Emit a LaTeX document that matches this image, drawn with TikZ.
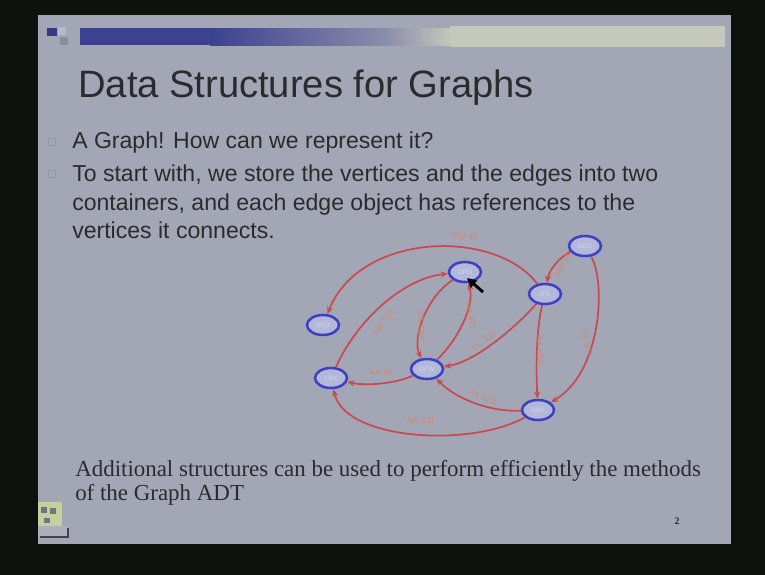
\documentclass[tikz,border=0pt]{standalone}
\usepackage{fontspec}
\setmainfont{Liberation Serif}
\newfontfamily\arialfont{Liberation Sans}
\usetikzlibrary{arrows.meta,shapes.geometric}

\definecolor{frame}{HTML}{0E120E}
\definecolor{slide}{HTML}{A3A7B5}
\definecolor{barblue}{HTML}{3C4190}
\definecolor{barmid}{HTML}{8A8DAA}
\definecolor{barlight}{HTML}{C5C8BC}
\definecolor{ink}{HTML}{2B2B2E}
\definecolor{bulletgray}{HTML}{9296A4}
\definecolor{edgered}{HTML}{C84A50}
\definecolor{lblorange}{HTML}{C98A72}
\definecolor{nodeblue}{HTML}{3C40C4}
\definecolor{nodefill}{HTML}{B3B7DA}
\definecolor{iconbg}{HTML}{C6D09C}

\tikzset{
  vertex/.style={ellipse, draw=nodeblue, line width=1.9pt, fill=nodefill,
    minimum width=24pt, minimum height=15pt, inner sep=0pt,
    font=\arialfont\fontsize{5}{5}\selectfont, text=nodefill!60!white},
  flight/.style={draw=edgered, line width=1.3pt,
    -{Stealth[length=5.5pt,width=4.5pt]}},
  flightlbl/.style={font=\arialfont\fontsize{6.5}{7}\selectfont, text=lblorange, inner sep=0pt},
  bodytext/.style={anchor=base west, inner sep=0pt, text=ink,
    font=\arialfont\fontsize{17.3}{20}\selectfont},
  sertext/.style={anchor=base west, inner sep=0pt, text=ink,
    font=\fontsize{17.2}{20}\selectfont},
  bulletbox/.style={draw=bulletgray, line width=0.5pt}
}

\begin{document}
\begin{tikzpicture}[x=0.75pt, y=-0.75pt]
  % surroundings and slide
  \fill[frame] (0,0) rectangle (765,575);
  \useasboundingbox (0,0) rectangle (765,575);
  \fill[slide] (38,15) rectangle (731,544);

  % header bar
  \fill[barlight] (450,26) rectangle (725,47);
  \fill[barblue] (80,28) rectangle (210,45);
  \shade[left color=barblue, right color=barmid] (210,28) rectangle (385,45);
  \shade[left color=barmid, right color=barlight] (385,28) rectangle (451,45);
  \fill[barblue!90!black] (47,28) rectangle (57,36);
  \fill[slide!80!white] (58,27) rectangle (66,35);
  \fill[slide!85!black] (60,37) rectangle (68,45);

  % title
  \node[anchor=base west, inner sep=0pt, text=ink,
        font=\arialfont\fontsize{28.6}{32}\selectfont] (title) at (78,97)
        {Data Structures for Graphs};

  % bullet list
  \draw[bulletbox] (48,138) rectangle (55,145);
  \draw[bulletbox] (48,170) rectangle (55,177);
  \node[bodytext] (b1) at (72,148) {A Graph! How can we represent it?};
  \node[bodytext] (b2) at (72,181) {To start with, we store the vertices and the edges into two};
  \node[bodytext] (b3) at (72,210) {containers, and each edge object has references to the};
  \node[bodytext] (b4) at (72,238) {vertices it connects.};

  % vertices
  \node[vertex] (ORD) at (465,272) {ORD};
  \node[vertex] (BOS) at (585,246) {BOS};
  \node[vertex] (JFK) at (545,294) {JFK};
  \node[vertex] (SFO) at (323,325) {SFO};
  \node[vertex] (LAX) at (331,378) {LAX};
  \node[vertex] (DFW) at (427,369) {DFW};
  \node[vertex] (MIA) at (538,410) {MIA};

  % flights
  \draw[flight] (JFK) .. controls (495,228) and (360,232) .. (SFO);
  \draw[flight] (BOS) .. controls (565,254) and (550,266) .. (JFK);
  \draw[flight] (BOS) .. controls (606,282) and (602,372) .. (MIA);
  \draw[flight] (JFK) .. controls (536,330) and (536,370) .. (MIA);
  \draw[flight] (JFK) .. controls (515,328) and (475,362) .. (DFW);
  \draw[flight] (MIA) .. controls (488,412) and (455,398) .. (DFW);
  \draw[flight] (MIA) .. controls (470,448) and (345,440) .. (LAX);
  \draw[flight] (DFW) .. controls (395,384) and (365,386) .. (LAX);
  \draw[flight] (LAX) .. controls (358,318) and (405,278) .. (ORD);
  \draw[flight] (ORD) .. controls (425,298) and (412,340) .. (DFW);
  \draw[flight] (DFW) .. controls (458,340) and (475,305) .. (ORD);

  % flight labels
  \node[flightlbl] (l1) at (465,237) {TW 45};
  \node[flightlbl, rotate=58] (l2) at (563,265) {NW 35};
  \node[flightlbl, rotate=-78] (l3) at (587,343) {DL 247};
  \node[flightlbl, rotate=-88] (l4) at (540,350) {AA 903};
  \node[flightlbl, rotate=35] (l5) at (484,341) {DL 335};
  \node[flightlbl, rotate=-22] (l6) at (482,397) {AA 523};
  \node[flightlbl] (l7) at (421,421) {AA 411};
  \node[flightlbl] (l8) at (381,373) {AA 49};
  \node[flightlbl, rotate=52] (l9) at (383,322) {UA 120};
  \node[flightlbl, rotate=-88] (l10) at (421,327) {AA 1387};
  \node[flightlbl, rotate=-80] (l11) at (471,316) {UA 877};

  % mouse pointer
  \draw[black, line width=2.2pt, -{Triangle[length=7pt,width=7pt]}]
    (483,292) -- (467,278);

  % closing remark
  \node[sertext] (r1) at (75,476) {Additional structures can be used to perform efficiently the methods};
  \node[sertext] (r2) at (75,500) {of the Graph ADT};

  % page number
  \node[inner sep=0pt, text=ink, font=\bfseries\fontsize{7.5}{8}\selectfont] (pg) at (677,521) {2};

  % navigation icon
  \fill[iconbg] (38,502) rectangle (62,526);
  \fill[slide!90!white] (38,526) rectangle (67,537);
  \fill[slide!70!black] (41,507) rectangle (47,513);
  \fill[slide!70!black] (50,508) rectangle (56,514);
  \fill[slide!70!black] (44,518) rectangle (50,523);
  \draw[slide!40!black, line width=0.8pt] (40,537) -- (68,537) -- (68,528);
\end{tikzpicture}
\end{document}
